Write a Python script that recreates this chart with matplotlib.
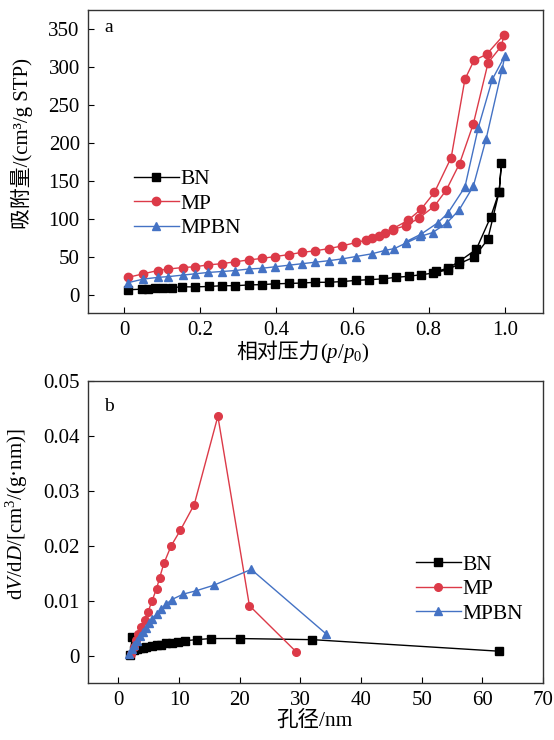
import matplotlib
matplotlib.use("Agg")
import matplotlib.pyplot as plt
from matplotlib.offsetbox import TextArea, HPacker, AnchoredOffsetbox

plt.rcParams['font.family'] = ['Liberation Serif', 'Noto Sans CJK SC']
plt.rcParams['mathtext.fontset'] = 'custom'
plt.rcParams['mathtext.rm'] = 'Liberation Serif'
plt.rcParams['mathtext.it'] = 'Liberation Serif:italic'
plt.rcParams['font.size'] = 15

# ---- panel a: N2 isotherms (adsorption then desorption) ----
bn_p = [0.01, 0.046, 0.063, 0.081, 0.103, 0.125, 0.151, 0.186, 0.223, 0.256, 0.291,
        0.327, 0.362, 0.397, 0.432, 0.467, 0.502, 0.538, 0.573, 0.609, 0.644, 0.679,
        0.713, 0.748, 0.78, 0.81, 0.85, 0.88, 0.92, 0.955, 0.985, 0.991,
        0.985, 0.963, 0.925, 0.88, 0.85, 0.82]
bn_v = [6.6, 7.5, 8, 8.5, 9, 9.5, 10.5, 10.5, 11, 12, 12,
        13, 13.5, 14.5, 15, 15.5, 16.5, 16.5, 17.5, 19, 20, 21,
        23, 24.5, 26.5, 28.5, 33, 41, 50, 73, 136, 174,
        136, 103, 60, 44, 35, 31]

mp_p = [0.01, 0.05, 0.088, 0.116, 0.154, 0.186, 0.221, 0.256, 0.291, 0.327, 0.362,
        0.397, 0.432, 0.467, 0.502, 0.538, 0.573, 0.609, 0.635, 0.65, 0.67, 0.685,
        0.705, 0.739, 0.774, 0.815, 0.846, 0.881, 0.917, 0.956, 0.991, 0.998,
        0.952, 0.919, 0.895, 0.859, 0.815, 0.78, 0.745, 0.705]
mp_v = [23, 27.7, 32, 34, 36, 37, 39.5, 41, 43.5, 46, 48,
        50.5, 53, 56, 58, 61, 64.5, 69, 72, 75, 77, 81,
        86, 91, 101, 117, 138, 173, 225, 306, 328, 343,
        317, 309, 284, 181, 135, 113, 98, 87]

mpbn_p = [0.01, 0.05, 0.088, 0.116, 0.154, 0.186, 0.221, 0.256, 0.291, 0.327, 0.362,
          0.397, 0.432, 0.467, 0.502, 0.538, 0.573, 0.609, 0.65, 0.685, 0.71, 0.739,
          0.778, 0.81, 0.848, 0.88, 0.917, 0.951, 0.993, 1.0,
          0.967, 0.93, 0.895, 0.85, 0.824, 0.78, 0.74]
mpbn_v = [16, 20.7, 23, 24, 26, 27.7, 29.5, 30.7, 32, 34, 35,
          37, 39, 41, 43, 45, 47.4, 50.5, 54, 58.5, 61, 68,
          77, 82, 95, 112, 143, 206, 298, 315,
          284, 220, 142, 107.5, 95, 80, 70]

# ---- panel b: pore size distribution ----
bn_d = [1.9, 2.3, 2.6, 3.0, 3.5, 4.1, 4.6, 5.5, 6.3, 7.1, 7.9, 8.8, 9.9, 10.9,
        12.9, 15.2, 20.1, 32.0, 62.7]
bn_dv = [0.0001, 0.0034, 0.0010, 0.0012, 0.0013, 0.0014, 0.0016, 0.0018, 0.0019,
         0.0020, 0.0022, 0.0023, 0.0025, 0.0027, 0.0029, 0.0031, 0.0031, 0.0029, 0.0008]

mp_d = [2.1, 2.5, 2.9, 3.3, 3.8, 4.35, 4.9, 5.55, 6.3, 6.8, 7.5, 8.7, 10.2, 12.5,
        16.4, 21.6, 29.3]
mp_dv = [0.0002, 0.0015, 0.0028, 0.004, 0.0052, 0.0065, 0.008, 0.010, 0.0122, 0.0142,
         0.0168, 0.020, 0.0228, 0.0275, 0.0436, 0.0091, 0.0007]

mpbn_d = [1.7, 2.2, 2.6, 3.0, 3.5, 4.0, 4.5, 5.0, 5.6, 6.3, 7.1, 7.9, 8.8, 10.7,
          12.8, 15.7, 21.9, 34.3]
mpbn_dv = [0.0002, 0.0012, 0.0019, 0.0027, 0.0035, 0.0043, 0.0051, 0.0059, 0.0067,
           0.0076, 0.0085, 0.0094, 0.0102, 0.0112, 0.0118, 0.0128, 0.0157, 0.0039]

labels = ['BN', 'MP', 'MPBN']
colors = ['black', '#DC3A48', '#4472C4']
markers = ['s', 'o', '^']

xa_ticks = [0, 0.2, 0.4, 0.6, 0.8, 1.0]
xa_labels = ['0', '0.2', '0.4', '0.6', '0.8', '1.0']
ya_ticks = [0, 50, 100, 150, 200, 250, 300, 350]
xb_ticks = [0, 10, 20, 30, 40, 50, 60, 70]
yb_ticks = [0, 0.01, 0.02, 0.03, 0.04, 0.05]
yb_labels = ['0', '0.01', '0.02', '0.03', '0.04', '0.05']

fig = plt.figure(figsize=(5.54, 7.40), dpi=100)
ax1 = fig.add_axes([0.159, 0.577, 0.821, 0.409])
ax2 = fig.add_axes([0.159, 0.077, 0.821, 0.408])

for ax in (ax1, ax2):
    ax.tick_params(direction='in', length=4, width=0.8, labelsize=15, pad=6)
    for s in ax.spines.values():
        s.set_linewidth(1.0)
        s.set_color('#333333')

series_a = [(bn_p, bn_v), (mp_p, mp_v), (mpbn_p, mpbn_v)]
for (x, y), lab, c, m in zip(series_a, labels, colors, markers):
    ax1.plot(x, y, color=c, marker=m, markersize=6, lw=1.0, label=lab)
ax1.set_xlim(-0.095, 1.1)
ax1.set_ylim(-24, 375)
ax1.set_xticks(xa_ticks)
ax1.set_xticklabels(xa_labels)
ax1.set_yticks(ya_ticks)
ax1.set_ylabel('吸附量/(cm³/g STP)', fontsize=15)
ax1.yaxis.set_label_coords(-0.122, 0.56)

# x label of panel a: CJK text + italic p/p0, packed on one baseline
xl_cjk = TextArea('相对压力', textprops=dict(fontsize=15))
xl_math = TextArea('($p$/$p_0$)', textprops=dict(fontsize=15))
xl_box = HPacker(children=[xl_cjk, xl_math], align='baseline', pad=0, sep=0)
ax1.add_artist(AnchoredOffsetbox(loc='center', child=xl_box, frameon=False, pad=0,
                                 borderpad=0, bbox_to_anchor=(0.472, -0.132),
                                 bbox_transform=ax1.transAxes))

ax1.text(0.035, 0.93, 'a', transform=ax1.transAxes, fontsize=14)
ax1.legend(loc='upper left', bbox_to_anchor=(0.1, 0.475), frameon=False, fontsize=15.5,
           handlelength=2.1, handletextpad=0.1, labelspacing=0.2, borderpad=0,
           borderaxespad=0)

series_b = [(bn_d, bn_dv), (mp_d, mp_dv), (mpbn_d, mpbn_dv)]
for (x, y), lab, c, m in zip(series_b, labels, colors, markers):
    ax2.plot(x, y, color=c, marker=m, markersize=5.5, lw=1.0, label=lab)
ax2.set_xlim(-5, 70)
ax2.set_ylim(-0.005, 0.05)
ax2.set_xticks(xb_ticks)
ax2.set_yticks(yb_ticks)
ax2.set_yticklabels(yb_labels)
ax2.set_xlabel('孔径/nm', fontsize=15.5)
ax2.xaxis.set_label_coords(0.497, -0.092)
ax2.set_ylabel('d$V$/d$D$/[cm$^3$/(g·nm)]', fontsize=15)
ax2.yaxis.set_label_coords(-0.127, 0.56)
ax2.text(0.035, 0.9, 'b', transform=ax2.transAxes, fontsize=14)
ax2.legend(loc='upper left', bbox_to_anchor=(0.72, 0.425), frameon=False, fontsize=15.5,
           handlelength=2.1, handletextpad=0.1, labelspacing=0.2, borderpad=0,
           borderaxespad=0)

fig.savefig('out.png', dpi=100)
